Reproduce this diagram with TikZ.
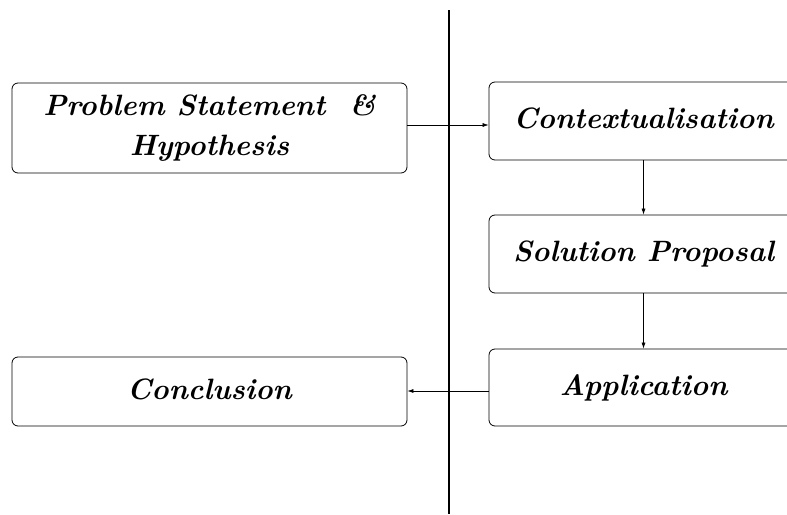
\documentclass[tikz,border=0pt]{standalone}
\usetikzlibrary{arrows.meta}
\begin{document}
\begin{tikzpicture}[x=1pt,y={(0pt,-1pt)},
  stage/.style={draw, line width=0.8pt, rounded corners=6pt, inner sep=0pt,
    align=center, font=\fontsize{29.4}{40}\selectfont\bfseries\itshape},
  oneline/.style={stage, text height=21.5pt, text depth=6.5pt},
  flow/.style={line width=0.6pt, -{Latex[length=6pt,width=4pt]}}]
  \useasboundingbox (0,0) rectangle (787,514);
  % dividing line
  \coordinate (top) at (449,10);
  \coordinate (bottom) at (449,514);
  \draw[line width=2.6pt] (top) -- (bottom);
  % left column
  \node[stage, minimum width=395pt, minimum height=90pt] (problem) at (209.5,128)
    {Problem Statement \ \&\\Hypothesis};
  \node[oneline, minimum width=395pt, minimum height=69pt] (conclusion) at (209.5,391.5)
    {Conclusion};
  % right column
  \node[oneline, minimum width=309pt, minimum height=78pt] (context) at (643.5,121)
    {Contextualisation};
  \node[oneline, minimum width=309pt, minimum height=78pt] (solution) at (643.5,254)
    {Solution Proposal};
  \node[oneline, minimum width=309pt, minimum height=77pt] (application) at (643.5,387.5)
    {Application};
  % connectors
  \draw[flow] (problem.east |- 0,125) -- (context.west |- 0,125);
  \draw[flow] (context) -- (solution);
  \draw[flow] (solution) -- (application);
  \draw[flow] (application.west |- 0,391) -- (conclusion.east |- 0,391);
\end{tikzpicture}
\end{document}
